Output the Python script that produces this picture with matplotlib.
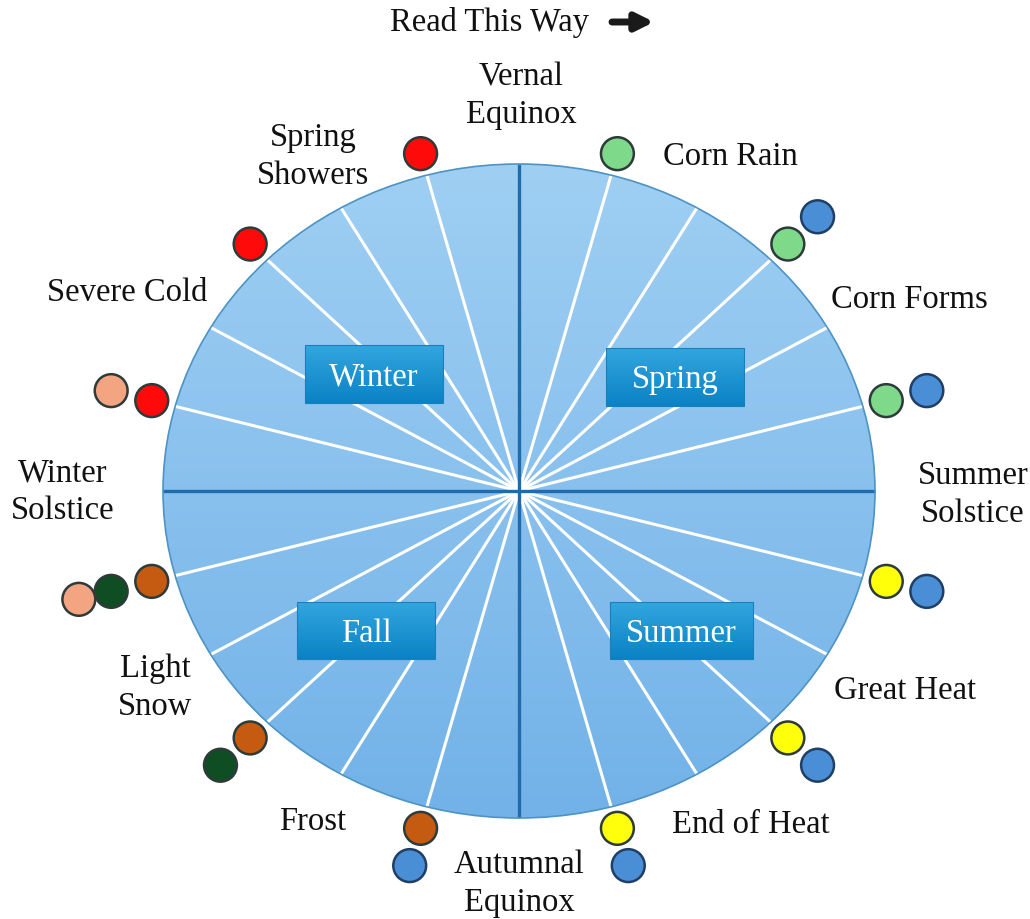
import numpy as np
import matplotlib
matplotlib.use("Agg")
import matplotlib.pyplot as plt
from matplotlib.patches import Ellipse, Rectangle

# sector boundaries every 15 degrees (parametric angle, counter-clockwise from east)
SECTOR_STEP = 15
AXIS_ANGLES = [0, 90, 180, 270]

# markers sitting outside the wheel: boundary angle, ring (0 = nearest), colour
DOT_ANGLES = [105, 75, 45, 45, 135, 15, 15, 165, 165, -15, -15,
              195, 195, 195, -45, -45, 225, 225, 255, 255, 285, 285]
DOT_RINGS = [0, 0, 0, 1, 0, 0, 1, 1, 0, 0, 1,
             0, 1, 2, 0, 1, 0, 1, 0, 1, 0, 1]
DOT_COLORS = ["#ff0a0a", "#7ed98b", "#7ed98b", "#4a8fd6", "#ff0a0a", "#7ed98b", "#4a8fd6",
              "#f2a580", "#ff0a0a", "#ffff0a", "#4a8fd6",
              "#c55a11", "#0f4d22", "#f2a580", "#ffff0a", "#4a8fd6", "#c55a11", "#0f4d22",
              "#c55a11", "#4a8fd6", "#ffff0a", "#4a8fd6"]

SEASONS = ["Winter", "Spring", "Fall", "Summer"]
TERMS = ["Vernal\nEquinox", "Spring\nShowers", "Corn Rain", "Severe Cold", "Corn Forms",
         "Winter\nSolstice", "Summer\nSolstice", "Light\nSnow", "Great Heat", "Frost",
         "End of Heat", "Autumnal\nEquinox"]

# layout (pixel space)
CX, CY, RX, RY = 519, 492, 356, 327
RING_R = [1.068, 1.186, 1.28]
SEASON_BOX = [(305, 346, 138, 58), (606, 349, 138, 58), (297, 603, 138, 57), (610, 603, 143, 57)]
TERM_POS = [(521, 96), (313, 157), (730, 157), (127, 293), (909, 300),
            (63, 492), (973, 495), (155, 688), (905, 691), (313, 822),
            (751, 825), (519, 884)]

SERIF = "Liberation Serif"
FS = 23.5

fig = plt.figure(figsize=(10.3, 9.2), dpi=100)
ax = fig.add_axes([0, 0, 1, 1])
ax.set_xlim(0, 1030)
ax.set_ylim(920, 0)
ax.axis("off")

# wheel with vertical gradient
wheel = Ellipse((CX, CY), 2 * RX, 2 * RY, facecolor="none", edgecolor="#4d93c4", lw=1.2, zorder=3)
ax.add_patch(wheel)
grad = np.linspace(0, 1, 256).reshape(-1, 1)
cmap = matplotlib.colors.LinearSegmentedColormap.from_list("wheel", ["#9fcff3", "#72b2e8"])
img = ax.imshow(grad, cmap=cmap, extent=(CX - RX, CX + RX, CY + RY, CY - RY),
                aspect="auto", zorder=1)
img.set_clip_path(wheel)

for ang in range(0, 360, SECTOR_STEP):
    t = np.radians(ang)
    x1, y1 = CX + RX * np.cos(t), CY - RY * np.sin(t)
    if ang in AXIS_ANGLES:
        ax.plot([CX, x1], [CY, y1], color="#1f6bab", lw=2.4, zorder=2.5, solid_capstyle="butt")
    else:
        ax.plot([CX, x1], [CY, y1], color="white", lw=2.2, zorder=2, solid_capstyle="butt")

# season boxes
box_cmap = matplotlib.colors.LinearSegmentedColormap.from_list("box", ["#32a6df", "#0b82c4"])
for name, (bx, by, bw, bh) in zip(SEASONS, SEASON_BOX):
    rect = Rectangle((bx, by), bw, bh, facecolor="none", edgecolor="#1a7fbd", lw=0.8, zorder=5)
    ax.add_patch(rect)
    bimg = ax.imshow(grad, cmap=box_cmap, extent=(bx, bx + bw, by + bh, by), aspect="auto", zorder=4)
    bimg.set_clip_path(rect)
    ax.text(bx + bw / 2, by + bh / 2 + 2, name, color="white", fontsize=FS, family=SERIF,
            ha="center", va="center", zorder=6)

# dots
ang = np.radians(np.array(DOT_ANGLES, dtype=float))
rr = np.array([RING_R[r] for r in DOT_RINGS])
dx = CX + RX * rr * np.cos(ang)
dy = CY - RY * rr * np.sin(ang)
edges = ["#1f3f66" if c == "#4a8fd6" else "#2e3b3b" for c in DOT_COLORS]
ax.scatter(dx, dy, s=560, c=DOT_COLORS, edgecolors=edges, linewidths=1.8, zorder=7)

# labels
for txt, (tx, ty) in zip(TERMS, TERM_POS):
    ax.text(tx, ty, txt, fontsize=FS, family=SERIF, color="#111111",
            ha="center", va="center", linespacing=1.32, zorder=8)

ax.text(489, 23, "Read This Way", fontsize=FS, family=SERIF, color="#111111",
        ha="center", va="center")
ax.annotate("", xy=(654, 23), xytext=(612, 23),
            arrowprops=dict(arrowstyle="-|>", lw=5, color="#1a1a1a", mutation_scale=26,
                            shrinkA=0, shrinkB=0))

fig.savefig("out.png", dpi=100, facecolor="white")
